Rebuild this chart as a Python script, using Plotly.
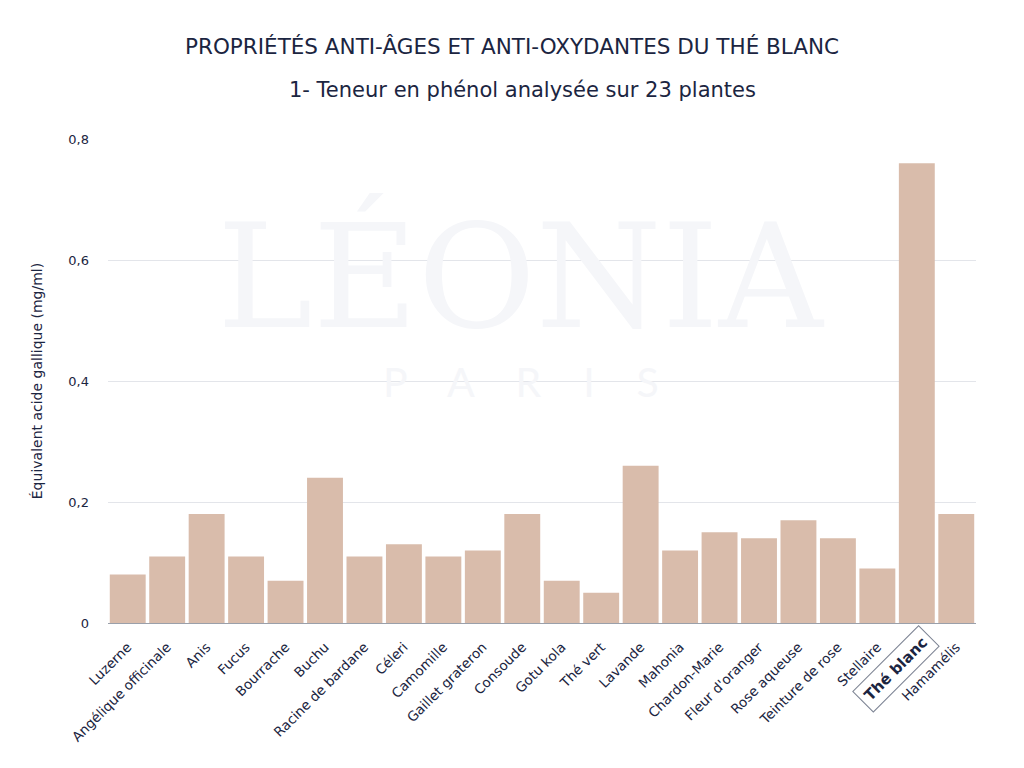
import plotly.graph_objects as go

plantes = ["Luzerne", "Angélique officinale", "Anis", "Fucus", "Bourrache", "Buchu",
           "Racine de bardane", "Céleri", "Camomille", "Gaillet grateron", "Consoude",
           "Gotu kola", "Thé vert", "Lavande", "Mahonia", "Chardon-Marie",
           "Fleur d'oranger", "Rose aqueuse", "Teinture de rose", "Stellaire",
           "Thé blanc", "Hamamélis"]
phenol = [0.08, 0.11, 0.18, 0.11, 0.07, 0.24, 0.11, 0.13, 0.11, 0.12, 0.18,
          0.07, 0.05, 0.26, 0.12, 0.15, 0.14, 0.17, 0.14, 0.09, 0.76, 0.18]
highlight = "Thé blanc"
y_ticks = [0, 0.2, 0.4, 0.6, 0.8]
y_ticklabels = ["0", "0,2", "0,4", "0,6", "0,8"]

navy = "#1b2541"
font = "DejaVu Sans"

# plot area in page pixels (page has an 8px body offset)
H = 768
left_px, right_px = 108, 976
top_px, bottom_px = 139, 623
plot_h = bottom_px - top_px
plot_w = right_px - left_px


def paper_y(px):
    return (bottom_px - px) / plot_h


def paper_x(px):
    return (px - left_px) / plot_w


ticktext = ["" if p == highlight else p for p in plantes]

fig = go.Figure(go.Bar(
    x=plantes, y=phenol,
    marker=dict(color="#d9bcab", line=dict(width=0)),
    hoverinfo="x+y",
))

fig.update_layout(
    width=1024, height=768,
    margin=dict(l=left_px - 8, r=1024 - right_px + 8, t=top_px - 8,
                b=H - bottom_px + 8, autoexpand=False),
    paper_bgcolor="white", plot_bgcolor="white",
    bargap=0.09,
    showlegend=False,
    font=dict(family=font, color=navy, size=13),
    xaxis=dict(
        tickmode="array", tickvals=plantes, ticktext=ticktext,
        tickangle=-45, tickfont=dict(family=font, size=13.5, color=navy),
        ticklabelstandoff=10,
        showgrid=False, showline=True, linecolor="#9aa0aa", linewidth=1,
        ticks="", fixedrange=True, automargin=False,
    ),
    yaxis=dict(
        range=[0, 0.8], tickmode="array", tickvals=y_ticks, ticktext=y_ticklabels,
        tickfont=dict(family=font, size=13, color=navy),
        showgrid=True, gridcolor="#e3e5ea", gridwidth=1,
        zeroline=False, showline=False, ticks="",
        ticklabelstandoff=18, automargin=False,
        title=dict(text="Équivalent acide gallique (mg/ml)",
                   font=dict(family=font, size=14, color=navy), standoff=22),
    ),
)

# watermark
fig.add_annotation(xref="paper", yref="paper", x=paper_x(521), y=paper_y(277),
                   text="LÉONIA", showarrow=False, yanchor="middle",
                   font=dict(family="DejaVu Serif", size=144, color="#f5f6f9"))
fig.add_annotation(xref="paper", yref="paper", x=paper_x(521), y=paper_y(381),
                   text="P    A    R    I    S", showarrow=False, yanchor="middle",
                   font=dict(family="Lato", size=41, color="#f5f6f9"))

# titles
fig.add_annotation(x=paper_x(512), y=paper_y(47), xref="paper", yref="paper",
                   showarrow=False, yanchor="middle", xanchor="center",
                   text="PROPRIÉTÉS ANTI-ÂGES ET ANTI-OXYDANTES DU THÉ BLANC",
                   font=dict(family=font, size=21.5, color=navy))
fig.add_annotation(x=paper_x(522), y=paper_y(90), xref="paper", yref="paper",
                   showarrow=False, yanchor="middle", xanchor="center",
                   text="1- Teneur en phénol analysée sur 23 plantes",
                   font=dict(family=font, size=21, color=navy))

# highlighted category label
fig.add_annotation(x=highlight, y=0, xref="x", yref="y", yshift=-46, xshift=-21,
                   text="<b>" + highlight + "</b>", showarrow=False,
                   textangle=-45, font=dict(family=font, size=15, color=navy),
                   bordercolor="#7c8393", borderwidth=1, borderpad=5,
                   bgcolor="white")

fig.write_html("out.html")
